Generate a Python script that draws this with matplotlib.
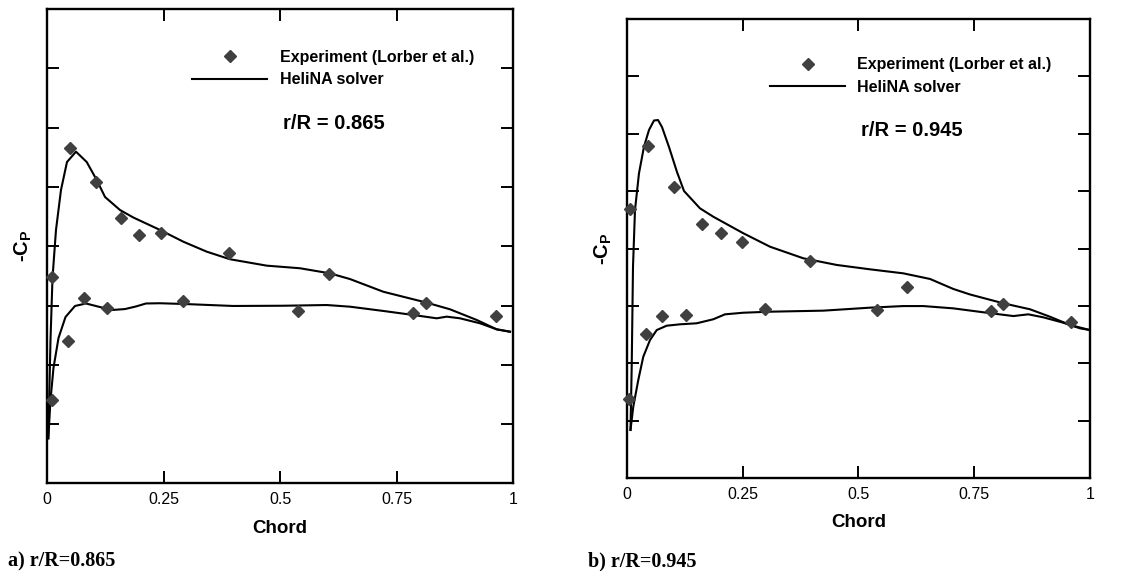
import matplotlib
matplotlib.use("Agg")
import matplotlib.pyplot as plt

plt.rcParams['font.family'] = ['Liberation Sans', 'DejaVu Sans']
plt.rcParams['mathtext.fontset'] = 'custom'
plt.rcParams['mathtext.rm'] = 'Liberation Sans'
plt.rcParams['mathtext.bf'] = 'Liberation Sans:bold'

# ---------------- data ----------------
x_ticks = [0, 0.25, 0.5, 0.75, 1]
x_tick_labels = ["0", "0.25", "0.5", "0.75", "1"]
y_ticks = [-1.5, -1.0, -0.5, 0.0, 0.5, 1.0, 1.5]

# panel a) r/R = 0.865
exp_x_a = [0.010, 0.011, 0.046, 0.049, 0.080, 0.105, 0.128, 0.159, 0.198,
           0.244, 0.292, 0.391, 0.538, 0.606, 0.786, 0.813, 0.963]
exp_cp_a = [-0.257, -1.297, -0.797, 0.831, -0.439, 0.544, -0.524, 0.235, 0.092,
            0.109, -0.460, -0.055, -0.546, -0.234, -0.561, -0.481, -0.586]

up_x_a = [0.0028, 0.0075, 0.0118, 0.0193, 0.0300, 0.0429, 0.0622, 0.0852, 0.1067,
          0.1245, 0.1567, 0.1852, 0.2425, 0.2925, 0.3427, 0.3927, 0.4715, 0.5429,
          0.6073, 0.6502, 0.7217, 0.8148, 0.8648, 0.9221, 0.9650, 0.9936]
up_cp_a = [-1.620, -0.791, -0.268, 0.137, 0.474, 0.710, 0.797, 0.710, 0.558,
           0.415, 0.305, 0.242, 0.137, 0.038, -0.046, -0.110, -0.164, -0.186,
           -0.229, -0.277, -0.384, -0.476, -0.532, -0.622, -0.701, -0.721]

lo_x_a = [0.0028, 0.0075, 0.0139, 0.0247, 0.0397, 0.0601, 0.0837, 0.1137, 0.1395,
          0.1674, 0.1910, 0.2124, 0.2425, 0.2925, 0.3998, 0.5071, 0.6002, 0.6502,
          0.7217, 0.7860, 0.8363, 0.8577, 0.8863, 0.9292, 0.9650, 0.9936]
lo_cp_a = [-1.620, -1.297, -1.027, -0.774, -0.597, -0.504, -0.483, -0.513, -0.538,
           -0.530, -0.508, -0.483, -0.481, -0.487, -0.504, -0.502, -0.496, -0.510,
           -0.546, -0.580, -0.608, -0.594, -0.608, -0.650, -0.701, -0.721]

# panel b) r/R = 0.945
exp_x_b = [0.0056, 0.0071, 0.0423, 0.0453, 0.0755, 0.1021, 0.1273, 0.1619, 0.2029,
           0.2489, 0.2992, 0.3956, 0.5396, 0.6057, 0.7863, 0.8129, 0.9590]
exp_cp_b = [-1.309, 0.343, -0.746, 0.894, -0.584, 0.537, -0.575, 0.215, 0.139,
            0.058, -0.523, -0.108, -0.537, -0.337, -0.543, -0.482, -0.636]

up_x_b = [0.0082, 0.0108, 0.0136, 0.0179, 0.0265, 0.0373, 0.0481, 0.0589, 0.0676,
          0.0762, 0.0913, 0.1086, 0.1237, 0.1582, 0.1869, 0.2517, 0.3093, 0.3812,
          0.4533, 0.5251, 0.5970, 0.6547, 0.7049, 0.7410, 0.8129, 0.8705, 0.9137,
          0.9569, 1.0]
up_cp_b = [-1.579, -1.028, -0.157, 0.337, 0.656, 0.888, 1.033, 1.116, 1.120,
           1.059, 0.885, 0.667, 0.502, 0.351, 0.278, 0.134, 0.017, -0.084,
           -0.142, -0.180, -0.215, -0.264, -0.351, -0.399, -0.476, -0.528, -0.593,
           -0.665, -0.709]

lo_x_b = [0.0082, 0.0142, 0.0250, 0.0358, 0.0503, 0.0648, 0.0863, 0.1150, 0.1511,
          0.1869, 0.2122, 0.2517, 0.3093, 0.4243, 0.5251, 0.5970, 0.6402, 0.7049,
          0.7770, 0.8345, 0.8668, 0.8992, 0.9424, 0.9784, 1.0]
lo_cp_b = [-1.579, -1.376, -1.144, -0.941, -0.796, -0.709, -0.671, -0.659, -0.650,
           -0.615, -0.572, -0.558, -0.549, -0.540, -0.514, -0.500, -0.500, -0.520,
           -0.558, -0.587, -0.572, -0.598, -0.645, -0.694, -0.709]

labels = ["Experiment (Lorber et al.)", "HeliNA solver"]
panel_titles = ["r/R = 0.865", "r/R = 0.945"]
captions = ["a) r/R=0.865", "b) r/R=0.945"]

# ---------------- figure ----------------
W, H = 1133, 571
fig = plt.figure(figsize=(W / 100, H / 100), dpi=100)

ax_a = fig.add_axes([47 / W, 1 - 483.4 / H, 466 / W, 474.4 / H])
ax_b = fig.add_axes([626.7 / W, 1 - 478.3 / H, 463.3 / W, 459.3 / H])

panels = [
    (ax_a, exp_x_a, exp_cp_a, up_x_a, up_cp_a, lo_x_a, lo_cp_a,
     (0.3118, 0.9134), (0.5058, 0.7576), (0.5, -0.0946), (-0.0515, 0.5)),
    (ax_b, exp_x_b, exp_cp_b, up_x_b, up_cp_b, lo_x_b, lo_cp_b,
     (0.3093, 0.9166), (0.505, 0.7583), (0.5, -0.0967), (-0.0505, 0.5)),
]

marker_color = '#404040'
for i, (ax, ex, ey, ux, uy, lx, ly, leg_pos, title_pos, xl_pos, yl_pos) in enumerate(panels):
    l_up, = ax.plot(ux, uy, color='black', lw=1.5, label=labels[1])
    ax.plot(lx, ly, color='black', lw=1.5)
    m_exp, = ax.plot(ex, ey, linestyle='none', marker='D', ms=6.4,
                     color=marker_color, mec=marker_color, clip_on=False,
                     label=labels[0], zorder=3)
    ax.set_xlim(0, 1)
    ax.set_ylim(-2, 2)
    ax.set_xticks(x_ticks)
    ax.set_xticklabels(x_tick_labels)
    ax.set_yticks(y_ticks)
    ax.set_yticklabels([])
    ax.tick_params(direction='in', length=8.5, width=1.4, top=True, right=True,
                   labelsize=11.5, pad=6, colors='black')
    for sp in ax.spines.values():
        sp.set_linewidth(1.7)

    leg = ax.legend(handles=[m_exp, l_up], loc='upper left', bbox_to_anchor=leg_pos,
                    frameon=False, borderpad=0, borderaxespad=0, handlelength=4.7,
                    handletextpad=0.77, labelspacing=0.46, numpoints=1,
                    prop={'family': 'Liberation Sans', 'weight': 'bold', 'size': 11.5})

    ax.text(title_pos[0], title_pos[1], panel_titles[i], transform=ax.transAxes,
            ha='left', va='center', fontsize=14.5, fontweight='bold')

    ax.set_xlabel("Chord", fontsize=13.5, fontweight='bold')
    ax.xaxis.label.set_va('center')
    ax.xaxis.set_label_coords(*xl_pos)
    ax.set_ylabel(r"-C$_{\mathbf{P}}$", fontsize=14.5, fontweight='bold')
    ax.yaxis.label.set_va('center')
    ax.yaxis.set_label_coords(*yl_pos)

fig.text(8.3 / W, 1 - 561 / H, captions[0], ha='left', va='center',
         family='Liberation Serif', fontweight='bold', fontsize=14.5)
fig.text(588.3 / W, 1 - 561 / H, captions[1], ha='left', va='center',
         family='Liberation Serif', fontweight='bold', fontsize=14.5)

fig.savefig("out.png", dpi=100)
